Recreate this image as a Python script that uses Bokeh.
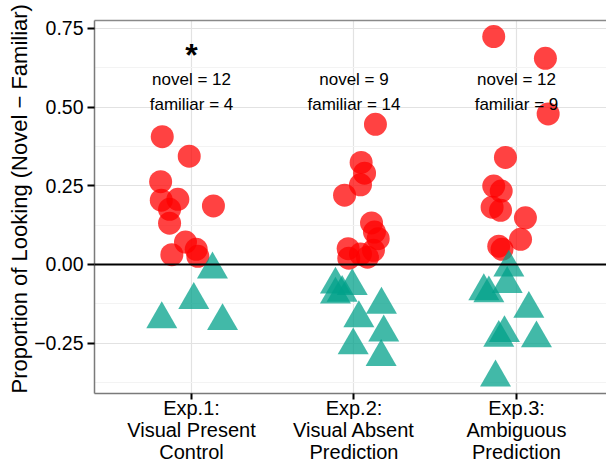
from bokeh.plotting import figure
from bokeh.models import Range1d, FixedTicker, LinearAxis, Span, Title
from bokeh.core.properties import value
from bokeh.embed import file_html
from bokeh.resources import INLINE

# categories and tick labels (three label lines per category)
categories = [1, 2, 3]
cat_line1 = ["Exp.1:", "Exp.2:", "Exp.3:"]
cat_line2 = ["Visual Present", "Visual Absent", "Ambiguous"]
cat_line3 = ["Control", "Prediction", "Prediction"]
y_ticks = [-0.25, 0.0, 0.25, 0.5, 0.75]
y_tick_labels = ["\u22120.25", "0.00", "0.25", "0.50", "0.75"]
y_minor = [-0.375, -0.125, 0.125, 0.375, 0.625]
y_title = "Proportion of Looking (Novel \u2212 Familiar)"

# novel-preferring infants (positive scores), jittered x positions
novel_x = [0.82, 0.986, 0.81, 0.814, 0.916, 0.865, 0.865, 1.135, 0.963, 0.879, 1.029, 1.039,
           2.132, 2.044, 2.065, 2.040, 1.942, 2.108, 2.126, 2.149, 1.964, 1.968, 2.040, 2.083, 2.120,
           2.860, 3.178, 3.195, 2.932, 2.860, 2.906, 2.850, 2.902, 3.055, 3.025, 2.891, 2.911]
novel_y = [0.406, 0.344, 0.263, 0.204, 0.207, 0.175, 0.131, 0.186, 0.071, 0.031, 0.048, 0.026,
           0.445, 0.324, 0.290, 0.253, 0.220, 0.132, 0.103, 0.082, 0.050, 0.020, 0.033, 0.023, 0.045,
           0.724, 0.655, 0.478, 0.340, 0.249, 0.233, 0.182, 0.172, 0.148, 0.080, 0.058, 0.048]

# familiar-preferring infants (negative scores)
familiar_x = [1.129, 1.014, 0.817, 1.191,
              1.886, 1.989, 1.886, 1.927, 2.169, 2.030, 2.183, 1.995, 2.167,
              2.953, 2.943, 2.799, 2.830, 3.076, 2.926, 2.891, 3.123, 2.871]
familiar_y = [-0.016, -0.113, -0.174, -0.180,
              -0.064, -0.069, -0.096, -0.090, -0.128, -0.171, -0.216, -0.257, -0.294,
              -0.010, -0.062, -0.085, -0.092, -0.141, -0.218, -0.233, -0.235, -0.359]

# annotation texts
novel_text = ["novel = 12", "novel = 9", "novel = 12"]
familiar_text = ["familiar = 4", "familiar = 14", "familiar = 9"]
novel_text_y = [0.587, 0.587, 0.587]
familiar_text_y = [0.507, 0.507, 0.507]
star_x = [1]
star_y = [0.665]

FONT = "Liberation Sans"

p = figure(width=606, height=465, output_backend="svg", toolbar_location=None,
           x_range=Range1d(0.403, 3.554), y_range=Range1d(-0.41, 0.775),
           min_border_left=94, min_border_top=20, min_border_right=0, min_border_bottom=0)
p.outline_line_color = None
p.background_fill_color = "white"
p.border_fill_color = "white"

# grids
p.xgrid.ticker = FixedTicker(ticks=categories)
p.xgrid.grid_line_color = "#E2E2E2"
p.xgrid.grid_line_width = 1.2
p.ygrid.ticker = FixedTicker(ticks=y_ticks, minor_ticks=y_minor)
p.ygrid.grid_line_color = "#E2E2E2"
p.ygrid.grid_line_width = 1.2
p.ygrid.minor_grid_line_color = "#F3F3F3"
p.ygrid.minor_grid_line_width = 1

# x axis: first label line with ticks
xa = p.xaxis[0]
xa.ticker = FixedTicker(ticks=categories, minor_ticks=[])
xa.major_label_overrides = {c: l for c, l in zip(categories, cat_line1)}
xa.major_label_text_font = FONT
xa.major_label_text_font_size = "20px"
xa.major_label_text_color = "black"
xa.major_label_standoff = -3
xa.axis_line_color = "#7A7A7A"
xa.axis_line_width = 1.5
xa.major_tick_line_color = "black"
xa.major_tick_line_width = 2
xa.major_tick_out = 6
xa.major_tick_in = 0

# further label lines as extra label-only axes
for lines in (cat_line2, cat_line3):
    ax = LinearAxis(ticker=FixedTicker(ticks=categories, minor_ticks=[]),
                    major_label_overrides={c: l for c, l in zip(categories, lines)},
                    major_label_text_font=FONT, major_label_text_font_size="20px",
                    major_label_text_color="black", major_label_standoff=-3,
                    axis_line_color=None, major_tick_out=0, major_tick_in=0,
                    minor_tick_out=0, minor_tick_in=0)
    p.add_layout(ax, "below")

# y axis
ya = p.yaxis[0]
ya.ticker = FixedTicker(ticks=y_ticks, minor_ticks=[])
ya.major_label_overrides = {t: l for t, l in zip(y_ticks, y_tick_labels)}
ya.major_label_text_font = FONT
ya.major_label_text_font_size = "19.5px"
ya.major_label_text_color = "black"
ya.major_label_standoff = 4
ya.axis_line_color = "#7A7A7A"
ya.axis_line_width = 1.5
ya.major_tick_line_color = "black"
ya.major_tick_line_width = 2
ya.major_tick_out = 7
ya.major_tick_in = 0

# y title, starting at the bottom of the panel
p.add_layout(Title(text=y_title, align="left", standoff=0, offset=0,
                   text_font=FONT, text_font_size="22px", text_font_style="normal",
                   text_color="black"), "left")

# top border
top = LinearAxis(ticker=FixedTicker(ticks=[], minor_ticks=[]),
                 major_label_text_font_size="0px", major_tick_out=0, major_tick_in=0,
                 minor_tick_out=0, minor_tick_in=0,
                 axis_line_color="#8A8A8A", axis_line_width=1.5)
p.add_layout(top, "above")

# points
p.scatter(novel_x, novel_y, marker="circle", size=23,
          fill_color="#FF0000", fill_alpha=0.74, line_color=None)
p.scatter(familiar_x, familiar_y, marker="triangle", size=31,
          fill_color="#00A08A", fill_alpha=0.74, line_color=None)

# zero reference line
p.add_layout(Span(location=0, dimension="width", line_color="black", line_width=2))

# annotations
p.text(categories, novel_text_y, text=novel_text, text_font=value(FONT),
       text_font_size="17px", text_align="center", text_baseline="middle", text_color="black")
p.text(categories, familiar_text_y, text=familiar_text, text_font=value(FONT),
       text_font_size="17px", text_align="center", text_baseline="middle", text_color="black")
p.text(star_x, star_y, text=["*"], text_font=value(FONT), text_font_style="bold",
       text_font_size="32px", text_align="center", text_baseline="alphabetic", text_color="black")

open("out.html", "w").write(file_html(p, INLINE))
